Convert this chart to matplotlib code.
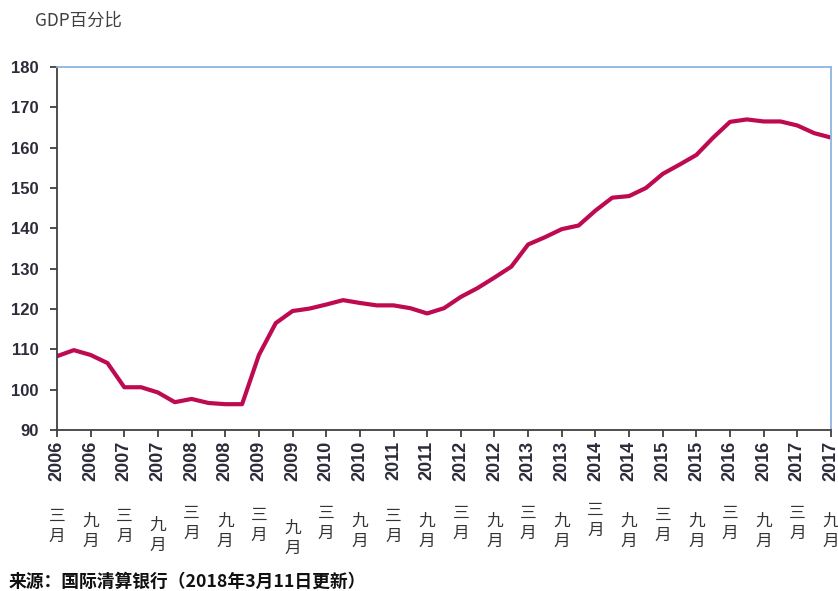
import matplotlib
matplotlib.use("Agg")
import matplotlib.pyplot as plt
import matplotlib.transforms as mtransforms
import numpy as np

# ---- data ----
values = [108.3, 109.8, 108.6, 106.6, 100.6, 100.6, 99.3, 96.9, 97.7, 96.7,
          96.4, 96.4, 108.6, 116.5, 119.5, 120.1, 121.1, 122.2, 121.5, 120.9,
          120.9, 120.2, 118.9, 120.2, 123.0, 125.2, 127.8, 130.5, 136.0, 137.8,
          139.8, 140.7, 144.4, 147.6, 148.0, 150.0, 153.5, 155.8, 158.2, 162.5,
          166.4, 167.0, 166.5, 166.5, 165.5, 163.6, 162.5]
tick_years = ["2006", "2006", "2007", "2007", "2008", "2008", "2009", "2009",
              "2010", "2010", "2011", "2011", "2012", "2012", "2013", "2013",
              "2014", "2014", "2015", "2015", "2016", "2016", "2017", "2017"]
tick_months = ["三\n月", "九\n月"] * 12
y_ticks = [90, 100, 110, 120, 130, 140, 150, 160, 170, 180]

title_text = "GDP百分比"
source_text = "来源：国际清算银行（2018年3月11日更新）"

# ---- layout ----
W, H = 838, 591
fig = plt.figure(figsize=(W / 100, H / 100), dpi=100)
ax = fig.add_axes([57 / W, 1 - 430 / H, (831 - 57) / W, (430 - 67) / H])

x = np.arange(len(values))
ax.plot(x, values, color="#BE0A50", lw=3.0, solid_joinstyle="round")

ax.set_xlim(0, len(values) - 1)
ax.set_ylim(90, 180)

dark = "#404040"
blue = "#8DB4E2"
for s in ["left", "bottom"]:
    ax.spines[s].set_color(dark)
    ax.spines[s].set_linewidth(1.3)
for s in ["top", "right"]:
    ax.spines[s].set_color(blue)
    ax.spines[s].set_linewidth(1.3)

ax.set_yticks(y_ticks)
ax.set_yticklabels([str(v) for v in y_ticks], fontfamily="Liberation Sans",
                   fontweight="bold", fontsize=12, color="#2B2B3A")
ax.tick_params(axis="y", direction="out", length=5, width=1.3, color=dark, pad=8)

xt = np.arange(0, len(values), 2)
ax.set_xticks(xt)
ax.set_xticklabels(tick_years, rotation=90, fontfamily="Liberation Sans",
                   fontweight="bold", fontsize=13, color="#2B2B3A", va="top")
ax.tick_params(axis="x", direction="out", length=5, width=1.3, color=dark, pad=3)

# month labels below year labels (vertical Chinese text)
month_tops = [511, 516, 511, 520, 508, 516, 510, 523, 508, 516, 511, 516,
              508, 516, 508, 516, 505, 516, 510, 516, 508, 516, 508, 516]
trans = mtransforms.blended_transform_factory(ax.transData, fig.transFigure)
for xi, lab, top in zip(xt, tick_months, month_tops):
    ax.text(xi, 1 - (top - 3) / H, lab, transform=trans, ha="center", va="top",
            fontfamily=["Noto Sans CJK SC", "DejaVu Sans"], fontsize=12,
            color="#333333", linespacing=1.2, clip_on=False)

fig.text(35 / W, 1 - 21 / H, title_text, ha="left", va="center",
         fontfamily=["Noto Sans CJK SC", "DejaVu Sans"], fontsize=12.5,
         color="#404040")
fig.text(9 / W, 1 - 582 / H, source_text, ha="left", va="center",
         fontfamily=["Noto Sans CJK SC", "DejaVu Sans"], fontsize=12.8,
         fontweight="bold", color="#111111")

fig.savefig("out.png", dpi=100)
